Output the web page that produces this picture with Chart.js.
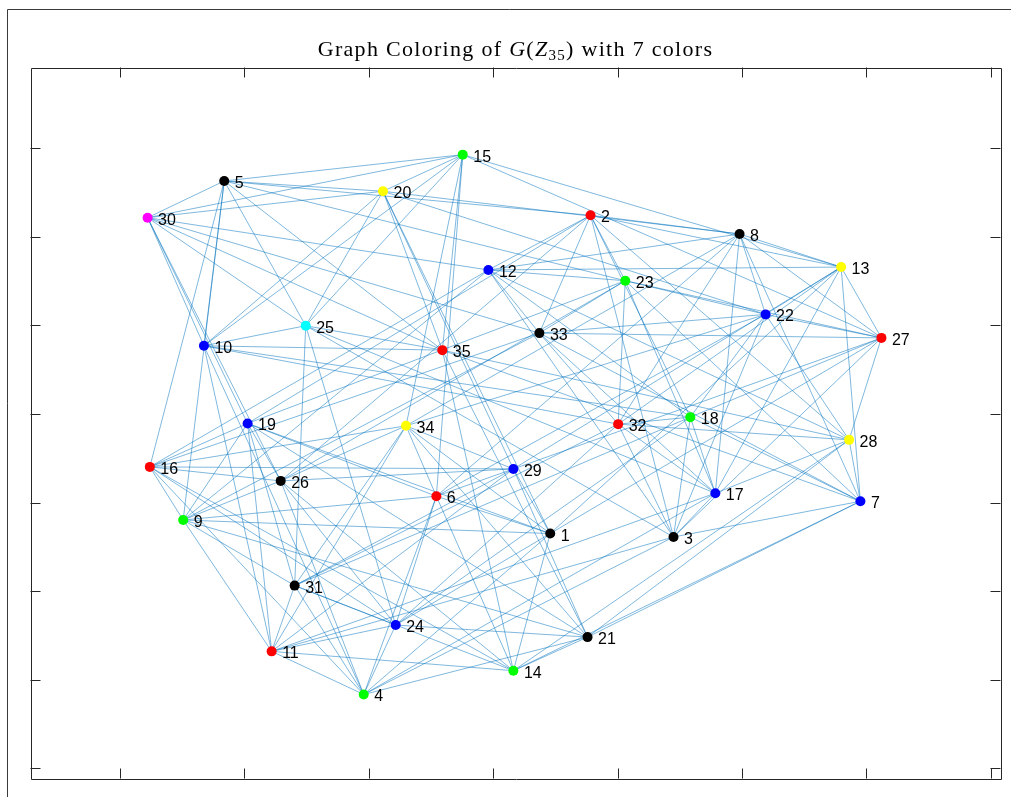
<!DOCTYPE html>
<html>
<head>
<meta charset="utf-8">
<title>Graph Coloring of G(Z35)</title>
<script src="https://cdn.jsdelivr.net/npm/chart.js@4.4.1/dist/chart.umd.min.js"></script>
<style>
  html, body { margin: 0; padding: 0; background: #ffffff; }
  canvas { display: block; }
</style>
</head>
<body>
<canvas id="chart" width="1011" height="797"></canvas>
<script>
// Vertices of the graph on Z_35 (35 stands for the zero class)
const nodeLabels = [
  1, 2, 3, 4, 5, 6, 7, 8, 9, 10, 11, 12, 13, 14, 15, 16, 17, 18,
  19, 20, 21, 22, 23, 24, 25, 26, 27, 28, 29, 30, 31, 32, 33, 34, 35
];

// Layout coordinates of each vertex
const nodeX = [
  0.459, 0.783, 1.450, -1.040, -2.161, -0.456, 2.952, 1.981, -2.491, -2.324,
  -1.780, -0.038, 2.797, 0.163, -0.244, -2.759, 1.786, 1.585, -1.973, -0.885,
  0.759, 2.190, 1.062, -0.783, -1.506, -1.707, 3.121, 2.861, 0.163, -2.777,
  -1.595, 1.005, 0.372, -0.700, -0.408
];
const nodeY = [
  -1.350, 2.240, -1.389, -3.165, 2.627, -0.929, -0.986, 2.029, -1.197, 0.768,
  -2.679, 1.623, 1.656, -2.897, 2.924, -0.598, -0.895, -0.037, -0.108, 2.511,
  -2.518, 1.122, 1.502, -2.382, 0.994, -0.756, 0.857, -0.293, -0.621, 2.213,
  -1.937, -0.116, 0.911, -0.135, 0.719
];

// Colour class assigned to each vertex (7 classes)
const nodeColorClass = [
  0, 2, 0, 3, 0, 2, 4, 0, 3, 4, 2, 4, 1, 3, 3, 2, 4, 3,
  4, 1, 0, 4, 3, 4, 6, 0, 2, 1, 4, 5, 0, 2, 0, 1, 2
];

// Edges: u ~ v when u + v is a zero divisor of Z_35
const edges = [
  [1,4],[1,6],[1,9],[1,13],[1,14],[1,19],[1,20],[1,24],[1,27],[1,29],[1,34],
  [2,3],[2,5],[2,8],[2,12],[2,13],[2,18],[2,19],[2,23],[2,26],[2,28],[2,33],
  [3,4],[3,7],[3,11],[3,12],[3,17],[3,18],[3,22],[3,25],[3,27],[3,32],
  [4,6],[4,10],[4,11],[4,16],[4,17],[4,21],[4,24],[4,26],[4,31],
  [5,9],[5,10],[5,15],[5,16],[5,20],[5,23],[5,25],[5,30],[5,35],
  [6,8],[6,9],[6,14],[6,15],[6,19],[6,22],[6,24],[6,29],[6,34],
  [7,8],[7,13],[7,14],[7,18],[7,21],[7,23],[7,28],[7,33],[7,35],
  [8,12],[8,13],[8,17],[8,20],[8,22],[8,27],[8,32],[8,34],
  [9,11],[9,12],[9,16],[9,19],[9,21],[9,26],[9,31],[9,33],
  [10,11],[10,15],[10,18],[10,20],[10,25],[10,30],[10,32],[10,35],
  [11,14],[11,17],[11,19],[11,24],[11,29],[11,31],[11,34],
  [12,13],[12,16],[12,18],[12,23],[12,28],[12,30],[12,33],
  [13,15],[13,17],[13,22],[13,27],[13,29],[13,32],
  [14,16],[14,21],[14,26],[14,28],[14,31],[14,35],
  [15,20],[15,25],[15,27],[15,30],[15,34],[15,35],
  [16,19],[16,24],[16,26],[16,29],[16,33],[16,34],
  [17,18],[17,23],[17,25],[17,28],[17,32],[17,33],
  [18,22],[18,24],[18,27],[18,31],[18,32],
  [19,21],[19,23],[19,26],[19,30],[19,31],
  [20,22],[20,25],[20,29],[20,30],[20,35],
  [21,24],[21,28],[21,29],[21,34],[21,35],
  [22,23],[22,27],[22,28],[22,33],[22,34],
  [23,26],[23,27],[23,32],[23,33],
  [24,25],[24,26],[24,31],[24,32],
  [25,30],[25,31],[25,35],
  [26,29],[26,30],[26,34],
  [27,28],[27,29],[27,33],
  [28,32],[28,35],
  [29,31],[29,34],
  [30,33],[30,35],
  [31,32],[31,34],
  [32,33]
];

// Axis tick positions (unlabelled)
const xTickValues = [-3, -2, -1, 0, 1, 2, 3, 4];
const yTickValues = [-4, -3, -2, -1, 0, 1, 2, 3];

// ---- styling ----
const palette = ['#000000', '#ffff00', '#ff0000', '#00ff00', '#0000ff', '#ff00ff', '#00ffff'];
const edgeColor = 'rgba(0, 114, 189, 0.5)';
const axisColor = '#262626';
const labelFont = '16px "Liberation Sans", Arial, Helvetica, sans-serif';
const titleFamily = '"Liberation Serif", "DejaVu Serif", serif';

const nodePoints = nodeLabels.map((n, i) => ({ x: nodeX[i], y: nodeY[i], label: n }));

const edgeDatasets = edges.map(([a, b]) => ({
  type: 'line',
  data: [
    { x: nodeX[a - 1], y: nodeY[a - 1] },
    { x: nodeX[b - 1], y: nodeY[b - 1] }
  ],
  borderColor: edgeColor,
  borderWidth: 1,
  pointRadius: 0,
  fill: false,
  tension: 0,
  order: 2
}));

const nodeDataset = {
  type: 'scatter',
  data: nodePoints,
  pointRadius: 5,
  pointHoverRadius: 5,
  pointBackgroundColor: nodeColorClass.map(c => palette[c]),
  pointBorderColor: nodeColorClass.map(c => palette[c]),
  pointBorderWidth: 0,
  order: 0
};

// White background and the outer figure border
const backgroundPlugin = {
  id: 'background',
  beforeDraw(chart) {
    const ctx = chart.ctx;
    ctx.save();
    ctx.fillStyle = '#ffffff';
    ctx.fillRect(0, 0, chart.width, chart.height);
    ctx.strokeStyle = '#3a3a3a';
    ctx.lineWidth = 1;
    ctx.beginPath();
    ctx.moveTo(7.5, chart.height);
    ctx.lineTo(7.5, 9.5);
    ctx.lineTo(chart.width, 9.5);
    ctx.stroke();
    ctx.restore();
  }
};

// Axes box with inward tick marks on all four sides
const axesBoxPlugin = {
  id: 'axesBox',
  afterDraw(chart) {
    const { ctx, chartArea: a, scales } = chart;
    const len = 10;
    ctx.save();
    ctx.strokeStyle = axisColor;
    ctx.lineWidth = 1;
    ctx.beginPath();
    ctx.rect(Math.round(a.left) + 0.5, Math.round(a.top) + 0.5,
             Math.round(a.right - a.left), Math.round(a.bottom - a.top));
    ctx.stroke();
    ctx.beginPath();
    xTickValues.forEach(v => {
      const px = Math.round(scales.x.getPixelForValue(v)) + 0.5;
      ctx.moveTo(px, a.top); ctx.lineTo(px, a.top + len);
      ctx.moveTo(px, a.bottom); ctx.lineTo(px, a.bottom - len);
    });
    yTickValues.forEach(v => {
      const py = Math.round(scales.y.getPixelForValue(v)) + 0.5;
      ctx.moveTo(a.left, py); ctx.lineTo(a.left + len, py);
      ctx.moveTo(a.right, py); ctx.lineTo(a.right - len, py);
    });
    ctx.stroke();
    ctx.restore();
  }
};

// Vertex number printed to the right of each marker
const nodeLabelPlugin = {
  id: 'nodeLabels',
  afterDatasetsDraw(chart) {
    const meta = chart.getDatasetMeta(0);
    const ctx = chart.ctx;
    ctx.save();
    ctx.font = labelFont;
    ctx.fillStyle = '#000000';
    ctx.textAlign = 'left';
    ctx.textBaseline = 'alphabetic';
    meta.data.forEach((pt, i) => {
      ctx.fillText(String(nodeLabels[i]), pt.x + 10.5, pt.y + 7);
    });
    ctx.restore();
  }
};

// Title with italic symbols and a subscript
const titlePlugin = {
  id: 'mathTitle',
  afterDraw(chart) {
    const ctx = chart.ctx;
    const size = 22;
    const spacing = 1.3;
    const runs = [
      { t: 'Graph Coloring of ', style: '', s: size, dy: 0 },
      { t: 'G', style: 'italic ', s: size, dy: 0 },
      { t: '(', style: '', s: size, dy: 0 },
      { t: 'Z', style: 'italic ', s: size, dy: 0 },
      { t: '35', style: '', s: Math.round(size * 0.7), dy: 4 },
      { t: ')', style: '', s: size, dy: 0 },
      { t: ' with 7 colors', style: '', s: size, dy: 0 }
    ];
    ctx.save();
    if ('letterSpacing' in ctx) ctx.letterSpacing = spacing + 'px';
    let total = 0;
    runs.forEach(r => {
      ctx.font = r.style + r.s + 'px ' + titleFamily;
      r.w = ctx.measureText(r.t).width;
      total += r.w;
    });
    const a = chart.chartArea;
    let x = (a.left + a.right) / 2 - total / 2;
    const baseY = 56;
    ctx.fillStyle = '#000000';
    ctx.textBaseline = 'alphabetic';
    ctx.textAlign = 'left';
    runs.forEach(r => {
      ctx.font = r.style + r.s + 'px ' + titleFamily;
      ctx.fillText(r.t, x, baseY + r.dy);
      x += r.w;
    });
    ctx.restore();
  }
};

new Chart(document.getElementById('chart'), {
  type: 'scatter',
  data: { datasets: [nodeDataset, ...edgeDatasets] },
  options: {
    responsive: false,
    animation: false,
    devicePixelRatio: 1,
    events: [],
    layout: { padding: { left: 30.5, top: 67.5, right: 10.5, bottom: 18.5 } },
    plugins: {
      legend: { display: false },
      tooltip: { enabled: false },
      title: { display: false }
    },
    scales: {
      x: { type: 'linear', display: false, min: -3.718, max: 4.078 },
      y: { type: 'linear', display: false, min: -4.113, max: 3.907 }
    }
  },
  plugins: [backgroundPlugin, axesBoxPlugin, nodeLabelPlugin, titlePlugin]
});
</script>
</body>
</html>
